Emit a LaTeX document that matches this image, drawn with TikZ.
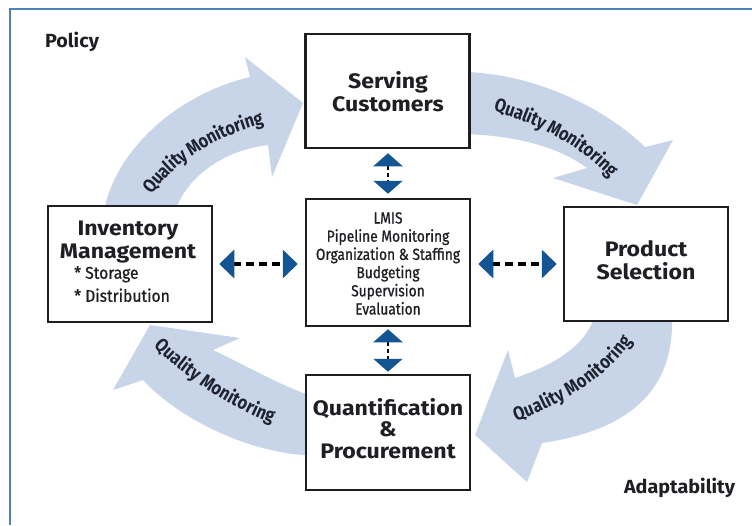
\documentclass[tikz,border=0pt]{standalone}
\usepackage{fontspec}
\setmainfont{Fira Sans}
\newfontfamily\condfont[FakeStretch=0.86, FakeBold=0.8]{Fira Sans}
\newfontfamily\qmfont[FakeStretch=0.86]{Fira Sans}
\newfontfamily\listfont[FakeStretch=0.92, FakeBold=0.8]{Fira Sans}
\newfontfamily\titlefont[FakeStretch=1.1]{Fira Sans}
\newfontfamily\cornerfont[FakeStretch=1.04]{Fira Sans}
\usetikzlibrary{arrows.meta,decorations.text}
\definecolor{abl}{RGB}{20,84,146}
\definecolor{framecol}{RGB}{79,129,189}
\definecolor{bigarrow}{RGB}{200,213,232}
\definecolor{boxline}{RGB}{30,30,30}
\definecolor{txt}{RGB}{30,30,35}
\definecolor{qmtxt}{RGB}{30,35,50}
\tikzset{
  box/.style={draw=boxline, line width=2.5pt, fill=white, inner sep=0pt, minimum width=164pt},
  title/.style={font=\titlefont\fontsize{21}{23}\selectfont\bfseries, text=txt, align=center, inner sep=0pt},
  corner/.style={font=\cornerfont\fontsize{19}{22}\selectfont\bfseries, text=txt, inner sep=0pt},
  listtext/.style={font=\listfont\fontsize{17}{23}\selectfont, text=txt, align=left, inner sep=0pt},
  midtext/.style={font=\condfont\fontsize{16}{18.2}\selectfont, text=txt, align=center, inner sep=0pt},
  bigfill/.style={fill=bigarrow},
  hdbl/.style={line width=3.5pt, draw=black, dash pattern=on 8pt off 5pt,
    {Triangle[length=15pt,width=28pt,color=abl]}-{Triangle[length=15pt,width=28pt,color=abl]}},
  vdbl/.style={line width=2.5pt, draw=black!85!abl, dash pattern=on 4pt off 3pt,
    {Triangle[length=13pt,width=29pt,color=abl]}-{Triangle[length=13pt,width=29pt,color=abl]}},
  qm/.style={decorate, decoration={text along path, text align=center, raise=-6.5pt,
    text={|\qmfont\fontsize{19}{21}\selectfont\bfseries\color{qmtxt}|Quality Monitoring}}}
}
\begin{document}
\begin{tikzpicture}[x=1pt,y=-1pt]
\useasboundingbox (0,0) rectangle (752,525);
\fill[white] (0,0) rectangle (752,525);
\draw[framecol, line width=2pt] (10,525) -- (10,9) -- (752,9);

% broad curved arrows
\fill[bigfill] (103,215) -- (105,206) .. controls (118,150) and (175,95) .. (250,77)
  -- (245,57) -- (303,103) -- (272,177) -- (268,145)
  .. controls (225,150) and (190,175) .. (177,206) -- (177,215) -- cycle;
\fill[bigfill] (460,72) -- (465,72) .. controls (535,74) and (605,108) .. (645,147)
  -- (673,140) -- (637,205) -- (553,178) -- (587,168)
  .. controls (560,148) and (520,136) .. (465,134) -- (460,134) -- cycle;
\fill[bigfill] (672,310) -- (672,315) .. controls (675,390) and (630,430) .. (542,443)
  -- (527,482) -- (475,435) -- (508,350) -- (515,378)
  .. controls (545,368) and (585,350) .. (595,315) -- (595,310) -- cycle;
\fill[bigfill] (315,393) -- (303,393) .. controls (270,380) and (235,360) .. (213,350)
  -- (240,338) -- (150,325) -- (113,390) -- (143,380)
  .. controls (175,415) and (240,450) .. (303,455) -- (315,455) -- cycle;

% curved labels
\path[qm] (138,204) .. controls (162,160) and (215,126) .. (278,114);
\path[qm] (480,101) .. controls (530,112) and (590,140) .. (625,185);
\path[qm] (500,420) .. controls (555,401) and (605,375) .. (635,325);
\path[qm] (150,334) .. controls (182,368) and (232,403) .. (285,421);

% boxes
\node[box, minimum height=114pt] (serve) at (387.5,91) {};
\node[box, minimum height=127pt] (ctr) at (388,262.5) {};
\node[box, minimum height=116pt] (inv) at (130,264) {};
\node[box, minimum height=114pt] (prod) at (646,264) {};
\node[box, minimum height=115pt] (quant) at (388,432.5) {};

% box texts
\node[title] (servet) at (388,91.5) {Serving\\Customers};
\node[title] (invt) at (128,242) {Inventory\\Management};
\node[listtext, anchor=north west] (invl) at (74,266) {* Storage\\* Distribution};
\node[title] (prodt) at (646,260.5) {Product\\Selection};
\node[title, font=\titlefont\fontsize{21}{21.5}\selectfont\bfseries] (quantt) at (388,428.5) {Quantification\\\&\\Procurement};
\node[midtext] (ctrt) at (388,263.5) {LMIS\\Pipeline Monitoring\\Organization \& Staffing\\Budgeting\\Supervision\\Evaluation};

% corner labels
\node[corner] (policy) at (72,42) {Policy};
\node[corner] (adapt) at (679.5,488) {Adaptability};

% dashed double arrows
\draw[hdbl, shorten <=6pt, shorten >=7pt] (inv.east) -- (ctr.west |- inv.east);
\draw[hdbl, shorten <=7pt, shorten >=6pt] (ctr.east |- prod.west) -- (prod.west);
\draw[vdbl, shorten <=4pt, shorten >=4pt] (serve.south -| ctr.north) -- (ctr.north);
\draw[vdbl, shorten <=2pt, shorten >=2pt] (ctr.south) -- (quant.north);
\end{tikzpicture}
\end{document}
